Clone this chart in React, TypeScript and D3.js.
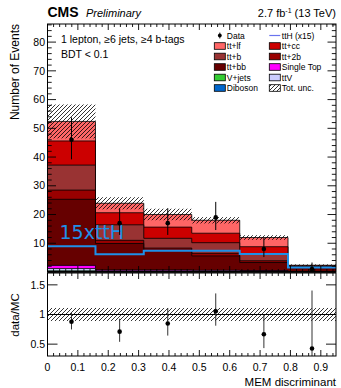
import React from "react";
import * as d3 from "d3";

// MEM discriminant bins
const binEdges = [0, 0.158, 0.317, 0.475, 0.633, 0.792, 0.95];

// stacked backgrounds (events per bin)
const diboson = [0.1, 0.02, 0.02, 0.02, 0.02, 0.01];
const vjets = [0.3, 0.1, 0.1, 0.08, 0.08, 0.04];
const ttV = [0.8, 0.3, 0.3, 0.3, 0.25, 0.1];
const singleTop = [1.1, 0.3, 0.3, 0.2, 0.15, 0.05];
const ttbb = [23.0, 9.2, 6.9, 5.0, 2.8, 1.3];
const tt2b = [3.2, 1.1, 0.7, 0.9, 0.6, 0.2];
const ttb = [8.7, 5.4, 3.4, 3.7, 2.5, 0.25];
const ttcc = [8.4, 4.2, 3.9, 3.3, 2.4, 0.2];
const ttlf = [6.8, 3.3, 4.4, 4.5, 3.2, 0.2];

const totUnc = [5.9, 2.1, 2.0, 1.1, 0.8, 0.3];
const ttH15 = [9.0, 6.2, 7.4, 7.4, 6.3, 1.6];

const data = [46, 17, 17, 19, 8, 1];
const dataErrLo = [6.8, 4.1, 4.1, 4.4, 2.8, 0.83];
const dataErrHi = [7.8, 5.2, 5.2, 5.4, 3.9, 2.3];

const ratioUnc = [0.11, 0.11, 0.11, 0.11, 0.11, 0.11];

const yTicks = [10, 20, 30, 40, 50, 60, 70, 80];
const xTicks = [0, 0.1, 0.2, 0.3, 0.4, 0.5, 0.6, 0.7, 0.8, 0.9];
const rTicks = [0.5, 1, 1.5];

const FONT = "Liberation Sans, Arial, Helvetica, sans-serif";

const procs = [
  { key: "diboson", vals: diboson, color: "#0066cc" },
  { key: "vjets", vals: vjets, color: "#33cc33" },
  { key: "ttV", vals: ttV, color: "#ccccff" },
  { key: "singleTop", vals: singleTop, color: "#ff00ff" },
  { key: "ttbb", vals: ttbb, color: "#660000" },
  { key: "tt2b", vals: tt2b, color: "#990000" },
  { key: "ttb", vals: ttb, color: "#993333" },
  { key: "ttcc", vals: ttcc, color: "#cc0000" },
  { key: "ttlf", vals: ttlf, color: "#ff6666" },
];

export default function App() {
  const left = 47.5,
    right = 336;
  const x = d3.scaleLinear().domain([0, 0.95]).range([left, right]);
  const y = d3.scaleLinear().domain([0, 86.3]).range([272, 24]);
  const r = d3.scaleLinear().domain([0.3, 1.7]).range([356, 273]);

  const nb = data.length;
  const rows = d3.range(nb).map((i) => {
    const o: any = {};
    procs.forEach((p) => (o[p.key] = p.vals[i]));
    return o;
  });
  const series = d3.stack().keys(procs.map((p) => p.key))(rows);
  const total = d3.range(nb).map((i) => d3.sum(procs, (p) => p.vals[i]));
  const centers = d3.range(nb).map((i) => (binEdges[i] + binEdges[i + 1]) / 2);

  const stepArea = d3
    .area<{ e: number; v: number }>()
    .x((d) => x(d.e))
    .y0(y(0))
    .y1((d) => y(d.v))
    .curve(d3.curveStepAfter);
  const stepLine = d3
    .line<{ e: number; v: number }>()
    .x((d) => x(d.e))
    .y((d) => y(d.v))
    .curve(d3.curveStepAfter);
  const pts = (vals: number[]) =>
    binEdges.map((e, i) => ({ e, v: vals[Math.min(i, vals.length - 1)] }));

  // layers drawn from the top of the stack down, ROOT style
  const layers = series
    .map((s, k) => ({ color: procs[k].color, hi: s.map((d) => d[1]) }))
    .reverse();

  const minorX = d3.range(0, 48).map((i) => i * 0.02).filter((v) => v <= 0.95);
  const minorY = d3.range(0, 44).map((i) => i * 2).filter((v) => v <= 86.3);

  const legL = [
    { label: "Data", kind: "data" },
    { label: "tt+lf", color: "#ff6666" },
    { label: "tt+b", color: "#993333" },
    { label: "tt+bb", color: "#660000" },
    { label: "V+jets", color: "#33cc33" },
    { label: "Diboson", color: "#0066cc" },
  ];
  const legR = [
    { label: "ttH (x15)", kind: "line" },
    { label: "tt+cc", color: "#cc0000" },
    { label: "tt+2b", color: "#990000" },
    { label: "Single Top", color: "#ff00ff" },
    { label: "ttV", color: "#ccccff" },
    { label: "Tot. unc.", kind: "hatch" },
  ];

  const legItem = (it: any, i: number, bx: number) => {
    const cy = 35.5 + i * 10.5;
    return (
      <g key={it.label}>
        {it.kind === "data" && (
          <g>
            <line x1={bx + 5.5} x2={bx + 5.5} y1={cy - 3} y2={cy + 3} stroke="#000" strokeWidth={0.8} />
            <circle cx={bx + 5.5} cy={cy} r={1.9} fill="#000" />
          </g>
        )}
        {it.kind === "line" && (
          <line x1={bx} x2={bx + 11} y1={cy} y2={cy} stroke="#6a73ee" strokeWidth={1.2} />
        )}
        {it.kind === "hatch" && (
          <rect x={bx} y={cy - 3.3} width={11} height={6.6} fill="url(#hatch)" stroke="#000" strokeWidth={0.8} />
        )}
        {it.color && (
          <rect x={bx} y={cy - 3.3} width={11} height={6.6} fill={it.color} stroke="#000" strokeWidth={0.8} />
        )}
        <text x={bx + 12.5} y={cy + 3} fontSize={8.5} fontFamily={FONT}>
          {it.label}
        </text>
      </g>
    );
  };

  return (
    <svg width={341} height={388} style={{ position: "absolute", left: 0, top: 0, background: "#fff" }}>
      <defs>
        <pattern id="hatch" width="4" height="4" patternUnits="userSpaceOnUse">
          <path d="M-1,1 l2,-2 M0,4 l4,-4 M3,5 l2,-2" stroke="#000" strokeWidth={0.8} />
        </pattern>
        <clipPath id="clipMain">
          <rect x={left} y={24} width={right - left} height={248} />
        </clipPath>
        <clipPath id="clipRatio">
          <rect x={left} y={273} width={right - left} height={83} />
        </clipPath>
      </defs>
      <rect x={0} y={0} width={341} height={388} fill="#fff" />

      {/* stacked backgrounds */}
      <g clipPath="url(#clipMain)">
        {layers.map((l, k) => (
          <path key={k} d={stepArea(pts(l.hi)) || ""} fill={l.color} stroke="#000" strokeWidth={0.8} />
        ))}
        {total.map((t, i) => (
          <rect
            key={i}
            x={x(binEdges[i])}
            width={x(binEdges[i + 1]) - x(binEdges[i])}
            y={y(t + totUnc[i])}
            height={y(t - totUnc[i]) - y(t + totUnc[i])}
            fill="url(#hatch)"
          />
        ))}
        <path d={stepLine(pts(ttH15)) || ""} fill="none" stroke="#1e90e8" strokeWidth={2} />
        <text x={59.5} y={239} fontSize={19} fontFamily="DejaVu Sans" fill="#1e90e8">
          15xttH
        </text>
        {data.map((d, i) => (
          <g key={i}>
            <line x1={x(centers[i])} x2={x(centers[i])} y1={y(d - dataErrLo[i])} y2={y(d + dataErrHi[i])} stroke="#000" strokeWidth={1} />
            <circle cx={x(centers[i])} cy={y(d)} r={2.3} fill="#000" />
          </g>
        ))}
      </g>

      {/* main frame + ticks */}
      <rect x={left} y={24} width={right - left} height={248} fill="none" stroke="#000" strokeWidth={1} />
      <line x1={left} x2={right} y1={272} y2={272} stroke="#000" strokeWidth={1.6} />
      {minorY.map((v) => {
        const major = v % 10 === 0;
        const len = major ? 8.5 : 4.2;
        return (
          <g key={"my" + v}>
            <line x1={left} x2={left + len} y1={y(v)} y2={y(v)} stroke="#000" strokeWidth={0.9} />
            <line x1={right} x2={right - len} y1={y(v)} y2={y(v)} stroke="#000" strokeWidth={0.9} />
          </g>
        );
      })}
      {minorX.map((v, i) => {
        const len = i % 5 === 0 ? 6 : 3;
        return (
          <g key={"mx" + i}>
            <line x1={x(v)} x2={x(v)} y1={24} y2={24 + len} stroke="#000" strokeWidth={0.9} />
            <line x1={x(v)} x2={x(v)} y1={272} y2={272 - len} stroke="#000" strokeWidth={0.9} />
          </g>
        );
      })}
      {yTicks.map((v) => (
        <text key={"yl" + v} x={45} y={y(v) + 3.7} fontSize={10.5} fontFamily={FONT} textAnchor="end">
          {v}
        </text>
      ))}

      {/* ratio panel */}
      <g clipPath="url(#clipRatio)">
        {ratioUnc.map((u, i) => (
          <rect
            key={i}
            x={x(binEdges[i])}
            width={x(binEdges[i + 1]) - x(binEdges[i]) + 0.5}
            y={r(1 + u)}
            height={r(1 - u) - r(1 + u)}
            fill="url(#hatch)"
          />
        ))}
        <line x1={left} x2={right} y1={r(1)} y2={r(1)} stroke="#000" strokeWidth={1.2} />
        {data.map((d, i) => {
          const v = d / total[i];
          return (
            <g key={i}>
              <line
                x1={x(centers[i])}
                x2={x(centers[i])}
                y1={r(v - dataErrLo[i] / total[i])}
                y2={r(v + dataErrHi[i] / total[i])}
                stroke="#333"
                strokeWidth={1}
              />
              <circle cx={x(centers[i])} cy={r(v)} r={2.3} fill="#000" />
            </g>
          );
        })}
      </g>
      <rect x={left} y={273} width={right - left} height={83} fill="none" stroke="#000" strokeWidth={1} />
      {rTicks.map((v) => (
        <g key={"rt" + v}>
          <line x1={left} x2={left + 10} y1={r(v)} y2={r(v)} stroke="#000" strokeWidth={0.9} />
          <line x1={right} x2={right - 10} y1={r(v)} y2={r(v)} stroke="#000" strokeWidth={0.9} />
          <text x={45} y={r(v) + 3.7} fontSize={10.5} fontFamily={FONT} textAnchor="end">
            {v}
          </text>
        </g>
      ))}
      {minorX.map((v, i) => {
        const len = i % 5 === 0 ? 6 : 3;
        return (
          <g key={"rx" + i}>
            <line x1={x(v)} x2={x(v)} y1={273} y2={273 + len} stroke="#000" strokeWidth={0.9} />
            <line x1={x(v)} x2={x(v)} y1={356} y2={356 - len} stroke="#000" strokeWidth={0.9} />
          </g>
        );
      })}
      {xTicks.map((v) => (
        <text key={"xl" + v} x={x(v)} y={370.5} fontSize={10.5} fontFamily={FONT} textAnchor="middle">
          {v}
        </text>
      ))}

      {/* titles */}
      <text x={right} y={386} fontSize={11.5} fontFamily={FONT} textAnchor="end">
        MEM discriminant
      </text>
      <text transform={`translate(19,24) rotate(-90)`} fontSize={12} fontFamily={FONT} textAnchor="end">
        Number of Events
      </text>
      <text transform={`translate(19,315) rotate(-90)`} fontSize={11.5} fontFamily={FONT} textAnchor="middle">
        data/MC
      </text>
      <text x={left} y={17.3} fontSize={14} fontWeight="bold" fontFamily={FONT}>
        CMS
      </text>
      <text x={86} y={17.3} fontSize={11} fontStyle="italic" fontFamily={FONT}>
        Preliminary
      </text>
      <text x={right} y={17.3} fontSize={11} fontFamily={FONT} textAnchor="end">
        2.7 fb<tspan dy={-4} fontSize={7}>-1</tspan>
        <tspan dy={4}> (13 TeV)</tspan>
      </text>
      <text x={61} y={43.3} fontSize={10.5} fontFamily={FONT}>
        1 lepton, ≥6 jets, ≥4 b-tags
      </text>
      <text x={61} y={58.3} fontSize={10.5} fontFamily={FONT}>
        BDT &lt; 0.1
      </text>

      {/* legend */}
      {legL.map((it, i) => legItem(it, i, 214.3))}
      {legR.map((it, i) => legItem(it, i, 269.3))}
    </svg>
  );
}
